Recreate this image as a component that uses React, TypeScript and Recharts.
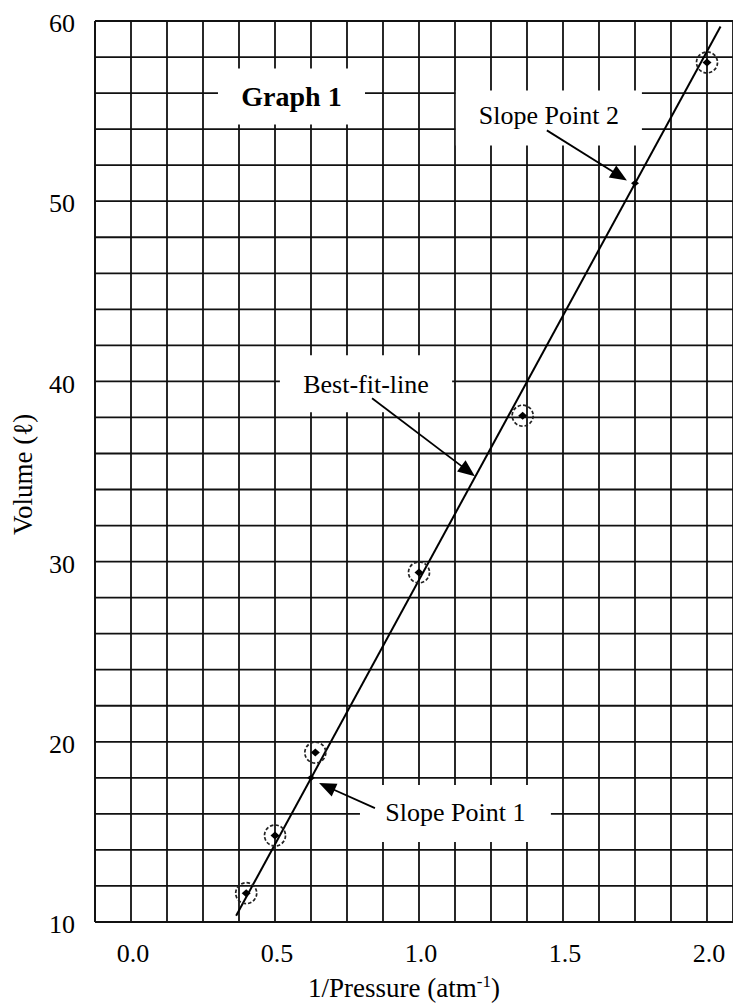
import React from 'react';
import {
  ScatterChart,
  Scatter,
  XAxis,
  YAxis,
  CartesianGrid,
  ReferenceArea,
  ReferenceLine,
  Label,
} from 'recharts';

const FONT = "'Liberation Serif', 'Times New Roman', Times, serif";

// grid / tick positions
const xGridTicks = [
  -0.125, 0, 0.125, 0.25, 0.375, 0.5, 0.625, 0.75, 0.875, 1.0, 1.125, 1.25,
  1.375, 1.5, 1.625, 1.75, 1.875, 2.0,
];
const xLabelTicks = [0, 0.5, 1.0, 1.5, 2.0];
const yGridTicks = [
  10, 12, 14, 16, 18, 20, 22, 24, 26, 28, 30, 32, 34, 36, 38, 40, 42, 44, 46,
  48, 50, 52, 54, 56, 58, 60,
];
const yLabelTicks = [10, 20, 30, 40, 50, 60];

// measured data
const invPressure = [0.4, 0.5, 0.64, 1.0, 1.36, 2.0];
const volume = [11.6, 14.8, 19.4, 29.4, 38.1, 57.7];

// slope points
const slopeX = [0.625, 1.75];
const slopeY = [18.0, 51.0];

// best-fit line end points (as drawn)
const fitX = [0.365, 2.047];
const fitY = [10.35, 59.7];

const dataPoints = invPressure.map((x, i) => ({ x, y: volume[i] }));
const slopePoints = slopeX.map((x, i) => ({ x, y: slopeY[i] }));
const fitLine = fitX.map((x, i) => ({ x, y: fitY[i] }));

// annotation boxes (data coordinates)
const boxes = [
  { text: 'Graph 1', x1: 0.302, x2: 0.8125, y1: 54.26, y2: 57.37, bold: true, dy: 0 },
  { text: 'Slope Point 2', x1: 1.128, x2: 1.774, y1: 53.09, y2: 56.15, bold: false, dy: -3 },
  { text: 'Best-fit-line', x1: 0.517, x2: 1.115, y1: 38.29, y2: 41.45, bold: false, dy: 0 },
  { text: 'Slope Point 1', x1: 0.795, x2: 1.458, y1: 14.44, y2: 17.6, bold: false, dy: -2 },
];

// annotation arrows: tail -> tip (data coordinates)
const arrows = [
  [{ x: 0.837, y: 39.06 }, { x: 1.194, y: 34.74 }],
  [{ x: 1.444, y: 53.93 }, { x: 1.722, y: 51.15 }],
  [{ x: 0.847, y: 16.32 }, { x: 0.653, y: 17.71 }],
];

const DataMarker = (props: any) => {
  const { cx, cy } = props;
  return (
    <g>
      <circle
        cx={cx}
        cy={cy}
        r={10.5}
        fill="none"
        stroke="#222"
        strokeWidth={1.7}
        strokeDasharray="3.5 2"
      />
      <path
        d={`M${cx - 4.5},${cy} L${cx},${cy - 4} L${cx + 4.5},${cy} L${cx},${cy + 4} Z`}
        fill="#000"
      />
    </g>
  );
};

const SlopeMarker = (props: any) => {
  const { cx, cy } = props;
  return (
    <path
      d={`M${cx - 4},${cy} L${cx},${cy - 3.2} L${cx + 4},${cy} L${cx},${cy + 3.2} Z`}
      fill="#000"
    />
  );
};

const NoMarker = () => <g />;

const ArrowShape = (p: any) => {
  const x1 = Number(p.x1);
  const y1 = Number(p.y1);
  const x2 = Number(p.x2);
  const y2 = Number(p.y2);
  const dx = x2 - x1;
  const dy = y2 - y1;
  const len = Math.hypot(dx, dy) || 1;
  const ux = dx / len;
  const uy = dy / len;
  const hl = 17;
  const hw = 7;
  const bx = x2 - ux * hl;
  const by = y2 - uy * hl;
  const px = -uy;
  const py = ux;
  return (
    <g>
      <line x1={x1} y1={y1} x2={bx + ux * 2} y2={by + uy * 2} stroke="#000" strokeWidth={1.8} />
      <polygon
        points={`${x2},${y2} ${bx + px * hw},${by + py * hw} ${bx - px * hw},${by - py * hw}`}
        fill="#000"
      />
    </g>
  );
};

const XTitle = () => (
  <text x={308} y={997} fontSize={27} fontFamily={FONT} fill="#000">
    1/Pressure (atm
    <tspan dy={-10} fontSize={17}>
      -1
    </tspan>
    <tspan dy={10} fontSize={27}>
      )
    </tspan>
  </text>
);

const YTitle = () => (
  <text
    x={32}
    y={535}
    transform="rotate(-90 32 535)"
    fontSize={27}
    fontFamily={FONT}
    fill="#000"
    textAnchor="start"
  >
    Volume (ℓ)
  </text>
);

export default function App() {
  return (
    <div
      style={{
        position: 'absolute',
        left: 0,
        top: 0,
        width: 733,
        height: 1004,
        background: '#fff',
      }}
    >
      <ScatterChart
        width={733}
        height={1004}
        margin={{ top: 21, right: 0, bottom: 0, left: 0 }}
      >
        <CartesianGrid stroke="#111" strokeWidth={1.8} />
        <XAxis
          type="number"
          dataKey="x"
          domain={[-0.125, 2.0903]}
          ticks={xGridTicks}
          interval={0}
          allowDataOverflow
          height={82}
          tickLine={false}
          tickSize={0}
          tickMargin={22}
          axisLine={{ stroke: '#111', strokeWidth: 1.8 }}
          tick={{ fill: '#000', fontSize: 26, fontFamily: FONT, dx: 2 }}
          tickFormatter={(v: number) =>
            xLabelTicks.includes(v) ? v.toFixed(1) : ''
          }
          label={<Label content={XTitle} />}
        />
        <YAxis
          type="number"
          dataKey="y"
          domain={[10, 60]}
          ticks={yGridTicks}
          interval={0}
          allowDataOverflow
          width={95}
          tickLine={false}
          tickSize={0}
          tickMargin={20}
          axisLine={{ stroke: '#111', strokeWidth: 1.8 }}
          tick={{ fill: '#000', fontSize: 26, fontFamily: FONT, dy: 2 }}
          tickFormatter={(v: number) =>
            yLabelTicks.includes(v) ? String(v) : ''
          }
          label={<Label content={YTitle} />}
        />
        {boxes.map((b) => (
          <ReferenceArea
            key={b.text}
            x1={b.x1}
            x2={b.x2}
            y1={b.y1}
            y2={b.y2}
            fill="#fff"
            fillOpacity={1}
            stroke="none"
            label={{
              value: b.text,
              position: 'center',
              fill: '#000',
              fontSize: b.bold ? 28 : 26,
              fontWeight: b.bold ? 'bold' : 'normal',
              fontFamily: FONT,
              dy: b.dy,
            }}
          />
        ))}
        {arrows.map((a, i) => (
          <ReferenceLine
            key={`arrow-${i}`}
            segment={a}
            stroke="#000"
            shape={ArrowShape}
          />
        ))}
        <Scatter
          data={fitLine}
          line={{ stroke: '#000', strokeWidth: 2 }}
          shape={NoMarker}
          isAnimationActive={false}
        />
        <Scatter data={dataPoints} shape={DataMarker} isAnimationActive={false} />
        <Scatter data={slopePoints} shape={SlopeMarker} isAnimationActive={false} />
      </ScatterChart>
    </div>
  );
}
